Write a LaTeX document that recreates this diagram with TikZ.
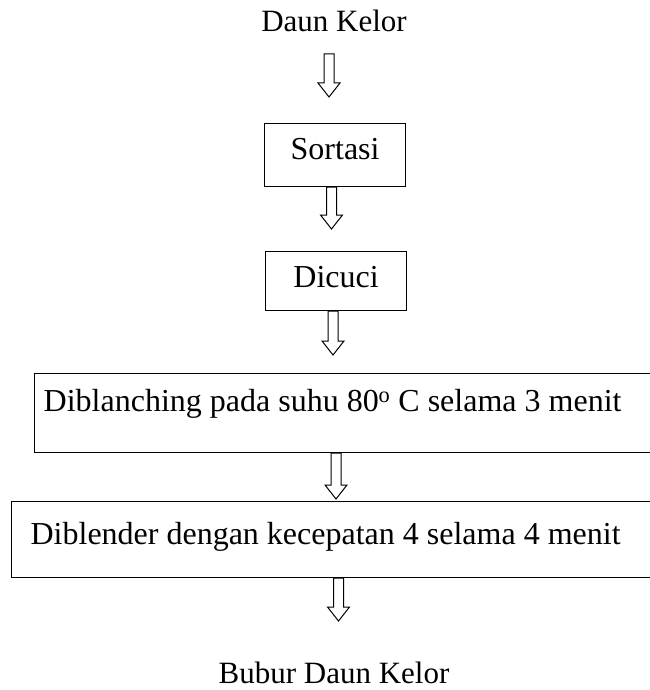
\documentclass[tikz,border=0pt]{standalone}
\usepackage{fontspec}
\setmainfont{Liberation Serif}
\usepackage{tikz}
\usetikzlibrary{calc}
\tikzset{
  box/.style={rectangle, draw=black, line width=1.2pt, fill=white,
              inner sep=0pt, anchor=north west, font=\fontsize{32}{38}\selectfont},
  endtext/.style={inner sep=0pt, anchor=base, font=\fontsize{31}{37}\selectfont},
  flow/.style={draw=black, line width=1pt, fill=white, line join=miter},
}
% hollow block arrow from a node (top) to an end coordinate (tip)
\newcommand{\flowarrow}[2]{%
  \draw[flow] let \p1=(#1), \p2=(#2) in
    (\x2-5pt,\y1) -- (\x2-5pt,\y2+14pt) -- (\x2-11pt,\y2+14pt) -- (\x2,\y2)
    -- (\x2+11pt,\y2+14pt) -- (\x2+5pt,\y2+14pt) -- (\x2+5pt,\y1) -- cycle;}

\begin{document}
\begin{tikzpicture}[x=1pt, y=-1pt]
  \useasboundingbox (0,0) rectangle (649,690);

  % Start and end texts
  \node[endtext] (daun) at (334,32) {Daun Kelor};
  \node[endtext] (bubur) at (334,683) {Bubur Daun Kelor};

  % Process boxes
  \node[box, minimum width=141pt, text height=36pt, text depth=27pt] (sortasi)
    at (264,123) {Sortasi};
  \node[box, minimum width=141pt, text height=36pt, text depth=23pt] (dicuci)
    at (265,251) {Dicuci};
  \node[box, minimum width=618pt, text height=38pt, text depth=41pt] (blanching)
    at (34,373) {Diblanching pada suhu 80\textsuperscript{o} C selama 3 menit\kern22pt};
  \node[box, minimum width=642pt, text height=43pt, text depth=33pt] (blender)
    at (11,501) {Diblender dengan kecepatan 4 selama 4 menit\kern14pt};

  % Arrow ends
  \coordinate (s1) at (329,54);
  \coordinate (e1) at (329,97);
  \coordinate (e2) at (331.5,229);
  \coordinate (e3) at (333,355);
  \coordinate (e4) at (336,499);
  \coordinate (e5) at (338.5,621);

  % Arrows
  \flowarrow{s1}{e1}
  \flowarrow{sortasi.south}{e2}
  \flowarrow{dicuci.south}{e3}
  \flowarrow{blanching.south}{e4}
  \flowarrow{blender.south}{e5}
\end{tikzpicture}
\end{document}
